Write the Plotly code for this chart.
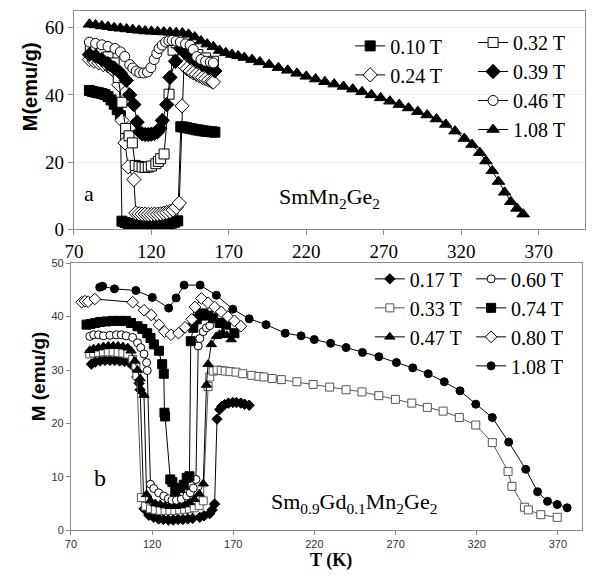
import plotly.graph_objects as go

W, H = 595, 580
SERIF = "Liberation Serif, Times New Roman, serif"
SANS = "Liberation Sans, Arial, sans-serif"

# ---------------- (a) SmMn2Ge2 ----------------
a_labels = ["0.10 T", "0.24 T", "0.32 T", "0.39 T", "0.46 T", "1.08 T"]

a_T_010 = [80, 82, 84, 86, 88, 90, 92, 94, 96, 98, 100,
           101, 103, 105, 107, 109, 111, 113, 115, 117, 119, 121, 123, 125, 127, 129, 131, 133, 135, 137,
           139, 141, 143, 145, 147, 149, 151, 153, 155, 157, 159, 161]
a_M_010 = [41.3, 41.0, 40.8, 40.6, 40.4, 40.1, 39.5, 38.5, 37.2, 35.6, 33.8,
           2.4, 2.0, 1.7, 1.4, 1.2, 1.0, 0.9, 0.8, 0.8, 0.8, 0.8, 0.9, 1.0, 1.1, 1.3, 1.5, 1.8, 2.1, 2.5,
           30.5, 30.4, 30.2, 30.0, 29.8, 29.6, 29.5, 29.3, 29.2, 29.1, 29.0, 28.9]

a_T_024 = [80, 83, 86, 89, 92, 95, 97, 99, 101, 103, 105, 108.7,
           110, 112, 114, 116, 118, 120, 122, 124, 126, 128, 130, 132, 134, 136, 138,
           139.8, 141, 143, 145, 147, 149, 151, 153, 155, 157, 159, 160]
a_M_024 = [50.5, 50.0, 49.5, 49.0, 48.6, 47.5, 46.7, 43.0, 32.4, 25.7, 18.6, 14.8,
           4.8, 4.6, 4.5, 4.5, 4.4, 4.4, 4.5, 4.5, 4.6, 4.8, 5.0, 5.3, 5.7, 6.5, 7.8,
           36.7, 48.6, 47.8, 47.1, 46.6, 46.1, 45.6, 45.2, 44.8, 44.4, 44.0, 43.8]

a_T_032 = [80.6, 84, 88, 92, 96, 98.6, 101, 103.4, 105.6, 107.7, 109.6, 112, 114, 116, 118, 120,
           122.9, 124.5, 126, 128.2, 131.4, 134, 136, 140, 145, 150, 155, 160]
a_M_032 = [53.8, 53.3, 52.5, 51.3, 49.5, 45.2, 37.8, 30.0, 27.8, 25.7, 19.0, 18.7, 18.5, 18.4, 18.5, 18.8,
           19.5, 20.2, 21.0, 22.4, 40.2, 53.3, 55.5, 55.0, 53.5, 52.0, 51.0, 50.0]

a_T_039 = [80, 84, 88, 92, 96, 100, 103.8, 106, 108.7, 110.8, 112.5, 114, 116, 118, 120, 122, 124,
           125.5, 127.1, 129.9, 132, 135.6, 138.8, 141, 145, 149, 153, 157, 161]
a_M_039 = [52.0, 51.5, 50.5, 49.3, 48.0, 46.5, 44.3, 40.0, 37.1, 31.9, 29.0, 28.4, 28.2, 28.2, 28.3, 28.5, 29.0,
           30.0, 32.4, 37.1, 45.2, 50.0, 53.8, 52.8, 51.4, 50.0, 49.0, 48.0, 47.1]

a_T_046 = [80, 84, 88, 92, 96.5, 100, 102.8, 106, 108, 110.2, 112.5, 115, 117.5, 119.7, 121.8, 123.5, 125,
           127, 129.2, 131.3, 133.4, 136, 138.7, 142, 145, 147, 149.3, 152, 155, 158, 160]
a_M_046 = [55.7, 55.3, 54.9, 54.4, 53.8, 52.8, 51.4, 49.0, 48.0, 47.1, 46.6, 46.5, 46.8, 48.1, 50.5, 52.3, 53.8,
           54.8, 55.7, 56.1, 56.2, 56.0, 55.7, 55.2, 54.8, 53.5, 51.4, 50.5, 50.0, 49.7, 49.5]

a_T_108 = [80, 84, 88, 92, 96, 100, 104, 108, 112, 116, 120, 124, 128, 132, 136, 140, 144, 148, 152, 156,
           160, 164, 168, 172, 176, 180, 185, 190, 196, 202, 208, 214, 220, 226, 232, 238, 244, 250, 256,
           262, 268, 274, 280, 286, 292, 298, 304, 310, 316, 322, 327, 332, 336, 340, 344, 348, 352, 356, 360]
a_M_108 = [61.0, 60.8, 60.5, 60.3, 60.0, 59.8, 59.6, 59.4, 59.2, 59.0, 58.9, 58.8, 58.7, 58.6, 58.5, 58.4,
           58.0, 57.2, 56.0, 55.1, 54.3, 53.2, 52.5, 52.0, 51.6, 51.1, 50.5, 49.8, 49.0, 48.1, 47.3, 46.4,
           45.5, 44.7, 43.9, 43.2, 42.5, 41.7, 40.9, 40.0, 39.1, 38.1, 37.1, 36.1, 35.0, 34.0, 32.8, 31.2,
           29.2, 27.0, 25.2, 22.8, 20.3, 17.4, 14.2, 11.0, 8.2, 6.2, 4.5]

# ---------------- (b) Sm0.9Gd0.1Mn2Ge2 ----------------
b_labels = ["0.17 T", "0.33 T", "0.47 T", "0.60 T", "0.74 T", "0.80 T", "1.08 T"]

b_T_017 = [82.6, 85, 88, 91, 94, 97, 100, 103, 106, 108, 110.6, 112, 112.6,
           115, 118, 121, 124, 127, 130, 133, 136, 139, 142, 145, 149.4, 152, 155.5, 157, 158.5,
           160, 161.6, 163, 164.6, 167, 169.7, 172, 174.7, 177, 179.8]
b_M_017 = [31.1, 31.5, 31.7, 31.8, 31.8, 31.8, 31.7, 31.6, 31.4, 30.8, 28.7, 27.5, 26.3,
           4.0, 2.8, 2.4, 2.1, 2.0, 1.9, 1.9, 2.0, 2.0, 2.1, 2.2, 2.4, 2.7, 3.1, 3.8, 4.9,
           20.8, 22.6, 23.2, 23.5, 23.8, 23.9, 23.9, 23.8, 23.6, 23.4]

b_T_033 = [81.6, 84, 87, 90, 93, 96, 99, 102, 105, 108, 110, 110.6,
           113.4, 116, 119, 122, 125, 128, 131, 134, 137, 140, 143, 146, 149, 151.5,
           154.5, 155.5, 157.6, 160, 162.6, 165, 168, 171.7, 175.8, 181.4, 185.8, 188.9, 194, 199.6,
           209.2, 219.2, 229.4, 239.5, 249.3, 259.7, 269.9, 280, 289.6, 299.3, 309.3, 319.4, 329.6,
           339.3, 341.7, 349.4, 351.8, 359.5, 369.6]
b_M_033 = [33.0, 33.2, 33.3, 33.4, 33.4, 33.4, 33.3, 33.2, 33.0, 32.0, 30.8, 29.0,
           6.1, 4.5, 4.0, 3.8, 3.7, 3.7, 3.7, 3.7, 3.8, 3.9, 4.0, 4.2, 4.6, 5.5,
           26.9, 28.7, 29.8, 30.0, 29.9, 29.8, 29.7, 29.6, 29.3, 29.0, 28.8, 28.7, 28.4, 28.2,
           27.8, 27.3, 26.8, 26.3, 25.9, 25.2, 24.5, 23.8, 23.0, 22.3, 21.1, 19.7, 16.4,
           11.0, 8.2, 4.3, 3.8, 2.9, 2.4]

b_T_047 = [81.6, 84, 87, 90, 93, 96, 99, 102, 105, 107, 109.3, 111, 112.6, 115,
           116.6, 119, 122, 125, 128, 131, 134, 137, 140, 143, 146, 149, 151.5,
           153.5, 154.5, 156.5, 159.6, 161.5, 163.6, 166, 168.7]
b_M_047 = [33.7, 34.0, 34.2, 34.4, 34.5, 34.5, 34.5, 34.4, 34.2, 33.6, 31.7, 30.0, 28.4, 25.3,
           6.7, 5.5, 5.0, 4.8, 4.6, 4.5, 4.5, 4.6, 4.8, 5.2, 5.8, 6.8, 8.7,
           27.2, 31.1, 34.8, 36.3, 36.7, 36.9, 36.5, 35.7]

b_T_060 = [81.6, 84, 87, 90, 94, 98, 101, 104, 108, 111, 113, 115, 116.6, 117,
           119, 121, 124, 127.2, 130, 132.2, 135, 138, 141.3, 143.5, 145.4, 147,
           148.4, 149.4, 151.5, 153.5, 155.5]
b_M_060 = [36.3, 36.6, 36.6, 36.4, 36.5, 36.6, 36.6, 36.4, 36.1, 35.1, 34.2, 33.0, 31.4, 29.9,
           8.6, 7.8, 7.0, 6.4, 5.9, 5.6, 5.6, 5.8, 6.4, 7.0, 7.9, 9.5,
           34.5, 35.9, 37.2, 37.9, 38.3]

b_T_074 = [79.6, 82, 85, 88, 92, 96, 100, 103.9, 107, 111, 114, 117, 119, 121.1, 124.2, 126.2, 127.2,
           127.6, 128, 131.2, 132.5, 134.3, 137.3, 139.5, 141.3, 143,
           143.8, 145.4, 147.5, 149.4, 151.5, 154.5, 157.6, 161.6, 165.6, 170.7]
b_M_074 = [38.5, 38.6, 38.8, 39.0, 39.1, 39.2, 39.2, 39.2, 38.8, 38.2, 37.7, 36.9, 36.0, 34.8, 33.6, 31.1, 29.3,
           22.0, 21.3, 9.5, 9.0, 7.3, 7.9, 8.5, 9.8, 10.1,
           35.4, 37.9, 39.5, 40.2, 40.6, 40.2, 39.7, 38.8, 38.5, 36.9]

b_T_080 = [76.6, 78.6, 80.6, 84.7, 108, 115, 119.5, 124.2, 127.6, 131.6, 136.3, 140.3, 144.4,
           146.4, 150.4, 154.5, 158.5, 162.6, 166.7, 170.7, 174.7]
b_M_080 = [42.7, 42.9, 42.8, 43.3, 42.7, 41.2, 40.3, 38.5, 37.2, 36.6, 36.9, 38.0, 39.5,
           41.8, 43.4, 42.6, 41.8, 40.9, 40.0, 39.2, 38.2]

b_T_108 = [87.7, 89.5, 96.8, 110, 120.1, 130.2, 134.8, 139.7, 149.6, 159.6, 169.7, 179.8, 190.2,
           202, 211.8, 219.9, 230, 239.5, 249.6, 259.7, 270.5, 280.6, 290.1, 300, 309.7, 319.4,
           329.6, 339.7, 350.2, 357.5, 363.6, 369.6, 375.7]
b_M_108 = [45.5, 45.7, 45.2, 44.9, 43.6, 41.6, 43.5, 45.9, 45.9, 44.0, 41.4, 39.6, 38.5,
           36.9, 36.4, 35.7, 35.0, 34.2, 33.3, 32.5, 31.4, 30.4, 29.3, 27.8, 26.1, 23.6,
           21.1, 16.5, 11.4, 7.2, 5.4, 4.8, 4.2]

x_ticks = [70, 120, 170, 220, 270, 320, 370]
a_y_ticks = [0, 20, 40, 60]
b_y_ticks = [0, 10, 20, 30, 40, 50]

# ---------------- styles ----------------
def mk(symbol, fill, size, edge="black", lw=1.0):
    return dict(symbol=symbol, color=fill, size=size, line=dict(color=edge, width=lw))

a_series = [
    (a_T_010, a_M_010, a_labels[0], mk("square", "black", 10), "black", "legend"),
    (a_T_024, a_M_024, a_labels[1], mk("diamond", "white", 11), "black", "legend"),
    (a_T_032, a_M_032, a_labels[2], mk("square", "white", 10), "black", "legend2"),
    (a_T_039, a_M_039, a_labels[3], mk("diamond", "black", 11), "black", "legend2"),
    (a_T_046, a_M_046, a_labels[4], mk("circle", "white", 10), "black", "legend2"),
    (a_T_108, a_M_108, a_labels[5], mk("triangle-up", "black", 11), "black", "legend2"),
]
b_series = [
    (b_T_017, b_M_017, b_labels[0], mk("diamond", "black", 8), "black", "legend3"),
    (b_T_033, b_M_033, b_labels[1], mk("square", "white", 8, "#555555"), "#555555", "legend3"),
    (b_T_047, b_M_047, b_labels[2], mk("triangle-up", "black", 9), "black", "legend3"),
    (b_T_060, b_M_060, b_labels[3], mk("circle", "white", 8), "black", "legend4"),
    (b_T_074, b_M_074, b_labels[4], mk("square", "black", 9), "black", "legend4"),
    (b_T_080, b_M_080, b_labels[5], mk("diamond", "white", 9), "black", "legend4"),
    (b_T_108, b_M_108, b_labels[6], mk("circle", "black", 8), "black", "legend4"),
]

fig = go.Figure()
for T, M, name, marker, lc, lg in a_series:
    fig.add_trace(go.Scatter(x=T, y=M, name=name, mode="lines+markers", marker=marker,
                             line=dict(color=lc, width=1), xaxis="x", yaxis="y", legend=lg))
for T, M, name, marker, lc, lg in b_series:
    fig.add_trace(go.Scatter(x=T, y=M, name=name, mode="lines+markers", marker=marker,
                             line=dict(color=lc, width=1), xaxis="x2", yaxis="y2", legend=lg))

def px_x(p):
    return p / W

def px_y(p):
    return 1 - p / H

axis_common = dict(showline=True, mirror=True, ticks="outside", zeroline=False, fixedrange=True)

fig.update_layout(
    width=W, height=H, autosize=False,
    margin=dict(l=0, r=0, t=0, b=0),
    paper_bgcolor="white", plot_bgcolor="white",
    xaxis=dict(domain=[px_x(65), px_x(585)], range=[70, 400], anchor="y",
               tickvals=x_ticks, linecolor="#8c8c8c", linewidth=1, ticklen=5, tickcolor="#8c8c8c",
               showgrid=False, tickfont=dict(family=SERIF, size=19, color="black"), **axis_common),
    yaxis=dict(domain=[px_y(230), px_y(5)], range=[0, 65], anchor="x",
               tickvals=a_y_ticks, linecolor="#8c8c8c", linewidth=1, ticklen=5, tickcolor="#8c8c8c",
               showgrid=True, gridcolor="#efefef", gridwidth=1,
               tickfont=dict(family=SERIF, size=19, color="black"), **axis_common),
    xaxis2=dict(domain=[px_x(62), px_x(582)], range=[70, 385], anchor="y2",
                tickvals=x_ticks, linecolor="#8c8c8c", linewidth=1, ticklen=4, tickcolor="#8c8c8c",
                showgrid=False, tickfont=dict(family=SANS, size=11, color="#333333"), **axis_common),
    yaxis2=dict(domain=[px_y(540), px_y(265)], range=[0, 50], anchor="x2",
                tickvals=b_y_ticks, linecolor="#8c8c8c", linewidth=1, ticklen=4, tickcolor="#8c8c8c",
                showgrid=False, tickfont=dict(family=SANS, size=11, color="#333333"), **axis_common),
    showlegend=True,
)

leg_common = dict(bgcolor="rgba(0,0,0,0)", borderwidth=0, xanchor="left", yanchor="top",
                  font=dict(family=SERIF, size=20, color="black"), itemwidth=30,
                  traceorder="normal", orientation="v")
fig.update_layout(
    legend=dict(x=px_x(346), y=px_y(21), **leg_common),
    legend2=dict(x=px_x(471), y=px_y(17.5), **leg_common),
    legend3=dict(x=px_x(366), y=px_y(261), **leg_common),
    legend4=dict(x=px_x(469), y=px_y(261), **leg_common),
)

annotations = [
    dict(text="<b>M(emu/g)</b>", x=px_x(20), y=px_y(83), xref="paper", yref="paper", textangle=-90,
         showarrow=False, font=dict(family=SANS, size=20, color="black"),
         xanchor="center", yanchor="middle"),
    dict(text="<b>M (emu/g)</b>", x=px_x(29), y=px_y(382), xref="paper", yref="paper", textangle=-90,
         showarrow=False, font=dict(family=SANS, size=19, color="black"),
         xanchor="center", yanchor="middle"),
    dict(text="<b>T (K)</b>", x=px_x(326), y=px_y(571), xref="paper", yref="paper",
         showarrow=False, font=dict(family=SERIF, size=18, color="black"),
         xanchor="center", yanchor="middle"),
    dict(text="a", x=79.5, y=10.5, xref="x", yref="y", showarrow=False,
         font=dict(family=SERIF, size=22, color="black"), xanchor="center", yanchor="middle"),
    dict(text="SmMn<sub>2</sub>Ge<sub>2</sub>", x=235, y=9.4, xref="x", yref="y", showarrow=False,
         font=dict(family=SERIF, size=22, color="black"), xanchor="center", yanchor="middle"),
    dict(text="b", x=87.7, y=9.8, xref="x2", yref="y2", showarrow=False,
         font=dict(family=SERIF, size=24, color="black"), xanchor="center", yanchor="middle"),
    dict(text="Sm<sub>0.9</sub>Gd<sub>0.1</sub>Mn<sub>2</sub>Ge<sub>2</sub>", x=244.6, y=5,
         xref="x2", yref="y2", showarrow=False,
         font=dict(family=SERIF, size=22, color="black"), xanchor="center", yanchor="middle"),
]
fig.update_layout(annotations=annotations)

fig.write_html("out.html")
